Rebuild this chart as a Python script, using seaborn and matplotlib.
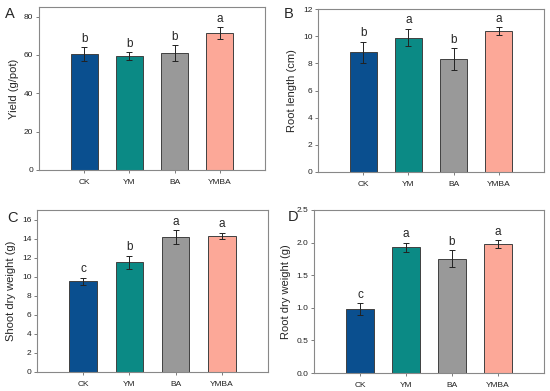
import seaborn as sns
import matplotlib.pyplot as plt
import pandas as pd

treatments = ['CK', 'YM', 'BA', 'YMBA']
bar_colors = ['#0a4f8f', '#0b8a85', '#999999', '#fca898']

yield_mean = [60.5, 59.5, 61.0, 71.5]
yield_err = [3.5, 2.0, 4.0, 3.0]
yield_sig = ['b', 'b', 'b', 'a']

root_len_mean = [8.8, 9.9, 8.3, 10.35]
root_len_err = [0.8, 0.65, 0.8, 0.3]
root_len_sig = ['b', 'a', 'b', 'a']

shoot_dw_mean = [9.5, 11.5, 14.15, 14.3]
shoot_dw_err = [0.4, 0.7, 0.7, 0.3]
shoot_dw_sig = ['c', 'b', 'a', 'a']

root_dw_mean = [0.98, 1.93, 1.75, 1.98]
root_dw_err = [0.09, 0.07, 0.13, 0.06]
root_dw_sig = ['c', 'a', 'b', 'a']

sns.set_style('white')
plt.rcParams['font.family'] = ['Liberation Sans', 'DejaVu Sans']

fig = plt.figure(figsize=(5.5, 3.91), dpi=100)

# axes boxes in pixel coords (left, top, right, bottom) and panel letter spots
boxes = [(39, 7, 265, 170), (318, 9, 544, 172), (37, 210, 268, 372), (314, 210, 544, 373)]
letter_pos = [(10, 14), (289, 14), (13, 218), (293, 217)]
panels = [
    ('A', 'Yield (g/pot)', yield_mean, yield_err, yield_sig, (0, 85), [0, 20, 40, 60, 80], '{:.0f}'),
    ('B', 'Root length (cm)', root_len_mean, root_len_err, root_len_sig, (0, 12), [0, 2, 4, 6, 8, 10, 12], '{:.0f}'),
    ('C', 'Shoot dry weight (g)', shoot_dw_mean, shoot_dw_err, shoot_dw_sig, (0, 17), [0, 2, 4, 6, 8, 10, 12, 14, 16], '{:.0f}'),
    ('D', 'Root dry weight (g)', root_dw_mean, root_dw_err, root_dw_sig, (0, 2.5), [0, 0.5, 1.0, 1.5, 2.0, 2.5], '{:.1f}'),
]

W, H = 550, 391
for (l, t, r, b), (lx, ly), (letter, ylabel, mean, err, sig, ylim, yticks, fmt) in zip(boxes, letter_pos, panels):
    ax = fig.add_axes([l / W, 1 - b / H, (r - l) / W, (b - t) / H])
    df = pd.DataFrame({'treatment': treatments, 'value': mean})
    sns.barplot(data=df, x='treatment', y='value', hue='treatment', palette=bar_colors,
                saturation=1, width=0.6, edgecolor='#404040', linewidth=0.7,
                errorbar=None, legend=False, ax=ax)
    ax.errorbar(range(len(treatments)), mean, yerr=err, fmt='none', ecolor='#222222',
                elinewidth=0.7, capsize=2.5, capthick=0.7)
    span = ylim[1] - ylim[0]
    for i, (m, e, s) in enumerate(zip(mean, err, sig)):
        ax.text(i, m + e + span * 0.015, s, ha='center', va='bottom', fontsize=8.5)
    ax.set_xlim(-1, 4)
    ax.set_ylim(*ylim)
    ax.set_yticks(yticks)
    ax.set_yticklabels([fmt.format(v) for v in yticks])
    ax.set_xlabel('')
    ax.set_ylabel(ylabel, fontsize=8)
    ax.tick_params(axis='both', labelsize=6, direction='out', length=2, width=0.6,
                   colors='#666666', labelcolor='#222222', pad=2)
    ax.tick_params(axis='x', pad=4.5)
    ax.yaxis.set_ticks_position('left')
    ax.xaxis.set_ticks_position('bottom')
    for sp in ax.spines.values():
        sp.set_color('#888888')
        sp.set_linewidth(0.8)
    fig.text(lx / W, 1 - ly / H, letter, fontsize=10.5, ha='center', va='center')

fig.savefig('out.png', dpi=100)
